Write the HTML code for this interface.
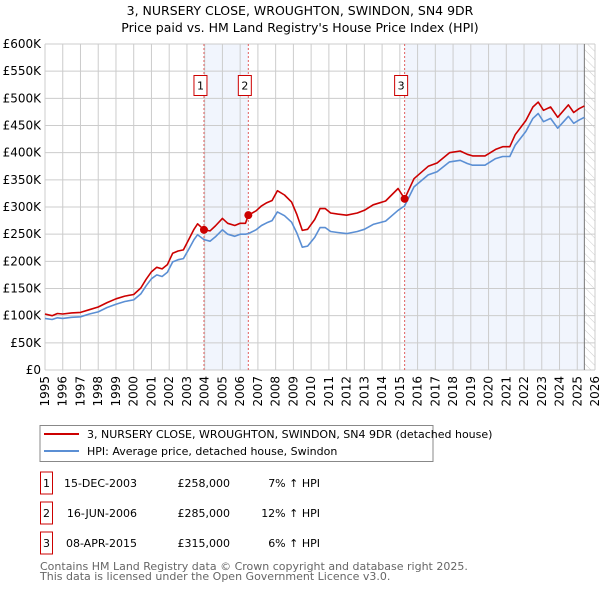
<!DOCTYPE html>
<html><head><meta charset="utf-8"><style>
body{margin:0;background:#fff;font-family:"DejaVu Sans","Liberation Sans",sans-serif;}
svg text{font-family:"DejaVu Sans","Liberation Sans",sans-serif;}
</style></head><body>
<svg id="chart" width="600" height="590" viewBox="0 0 600 590" xmlns="http://www.w3.org/2000/svg">
<defs><pattern id="hatch" width="6" height="6" patternUnits="userSpaceOnUse" patternTransform="rotate(-45)"><line x1="0" y1="0" x2="0" y2="6" stroke="#ccc" stroke-width="1"/></pattern></defs>
<text x="300" y="15" text-anchor="middle" font-size="12.5">3, NURSERY CLOSE, WROUGHTON, SWINDON, SN4 9DR</text>
<text x="300" y="32" text-anchor="middle" font-size="12.5">Price paid vs. HM Land Registry's House Price Index (HPI)</text>
<g id="plot"></g>
<g>
<rect x="40" y="425.5" width="393" height="36" fill="#fff" stroke="#888"/>
<line x1="44" y1="434" x2="79" y2="434" stroke="#cc0000" stroke-width="2"/>
<text x="87" y="438" font-size="11">3, NURSERY CLOSE, WROUGHTON, SWINDON, SN4 9DR (detached house)</text>
<line x1="44" y1="451" x2="79" y2="451" stroke="#5b8fd4" stroke-width="2"/>
<text x="87" y="455" font-size="11">HPI: Average price, detached house, Swindon</text>
</g>
<g id="table" font-size="11"></g>
<text x="40" y="570" font-size="11" fill="#666">Contains HM Land Registry data © Crown copyright and database right 2025.</text>
<text x="40" y="580" font-size="11" fill="#666">This data is licensed under the Open Government Licence v3.0.</text>
</svg>
<script>
const hpiYears=[1995.0,1995.4,1995.7,1996.0,1996.5,1997.0,1997.5,1998.0,1998.5,1999.0,1999.5,2000.0,2000.4,2000.7,2001.0,2001.3,2001.6,2001.9,2002.2,2002.5,2002.8,2003.1,2003.4,2003.6,2003.96,2004.3,2004.6,2005.0,2005.3,2005.7,2006.0,2006.3,2006.46,2006.9,2007.2,2007.5,2007.8,2008.1,2008.5,2008.9,2009.2,2009.5,2009.8,2010.2,2010.5,2010.8,2011.1,2011.5,2012.0,2012.6,2013.0,2013.5,2014.2,2014.9,2015.27,2015.8,2016.6,2017.1,2017.8,2018.4,2018.8,2019.1,2019.8,2020.4,2020.8,2021.2,2021.5,2022.1,2022.5,2022.8,2023.1,2023.5,2023.9,2024.5,2024.8,2025.1,2025.4];
const hpiValues=[95,93,96,95,97,98,103,107,115,121,126,129,140,155,168,175,172,180,199,203,205,222,240,249,240,237,245,258,250,246,250,250,251,258,266,271,275,291,284,272,252,226,228,244,262,262,255,253,251,255,259,268,274,294,302,337,359,365,383,386,380,377,377,389,393,393,414,439,463,472,457,463,445,467,454,460,465];
const priceValues=[103,100,104,103,105,106,111,116,124,131,136,139,151,167,181,189,186,194,215,219,221,240,259,269,258,256,265,279,270,266,270,270,285,293,302,308,312,330,322,309,286,257,259,277,297,297,289,287,285,289,294,304,311,334,315,352,375,381,400,403,397,394,394,406,411,411,433,459,484,493,478,484,465,488,474,481,486];
const saleLabels=["1","2","3"];
const saleYears=[2003.96,2006.46,2015.27];
const salePrices=[258,285,315];
const saleDates=["15-DEC-2003","16-JUN-2006","08-APR-2015"];
const salePriceText=["£258,000","£285,000","£315,000"];
const saleHpiText=["7% ↑ HPI","12% ↑ HPI","6% ↑ HPI"];
const yTickValues=[0,50,100,150,200,250,300,350,400,450,500,550,600];
const yTickLabels=["£0","£50K","£100K","£150K","£200K","£250K","£300K","£350K","£400K","£450K","£500K","£550K","£600K"];
const xTickYears=[1995,1996,1997,1998,1999,2000,2001,2002,2003,2004,2005,2006,2007,2008,2009,2010,2011,2012,2013,2014,2015,2016,2017,2018,2019,2020,2021,2022,2023,2024,2025,2026];
const dataEndYear=2025.4;

const X0=45,X1=595,Y0=370,Y1=44;
const xs=y=>X0+(y-1995)/(2026-1995)*(X1-X0);
const ys=v=>Y0-v/600*(Y0-Y1);
const NS="http://www.w3.org/2000/svg";
const plot=document.getElementById('plot');
function mk(tag,attrs,parent){const e=document.createElementNS(NS,tag);for(const k in attrs)e.setAttribute(k,attrs[k]);(parent||plot).appendChild(e);return e;}

let s=mk('rect',{x:xs(saleYears[0]),y:Y1,width:xs(saleYears[1])-xs(saleYears[0]),height:Y0-Y1,fill:'#eef3fc',opacity:0.8});


s=mk('rect',{x:xs(saleYears[2]),y:Y1,width:xs(dataEndYear)-xs(saleYears[2]),height:Y0-Y1,fill:'#eef3fc',opacity:0.8});


s=mk('rect',{x:xs(dataEndYear),y:Y1,width:X1-xs(dataEndYear),height:Y0-Y1,fill:'url(#hatch)'});



yTickValues.forEach((v,i)=>{
  const l=mk('line',{x1:X0,x2:X1,y1:ys(v),y2:ys(v),stroke:'#cccccc','stroke-width':1});
  
  
  const t=mk('text',{x:X0-4,y:ys(v)+4,'text-anchor':'end','font-size':12});
  
  
  t.textContent=yTickLabels[i];
});
xTickYears.forEach(y=>{
  const l=mk('line',{x1:xs(y),x2:xs(y),y1:Y1,y2:Y0,stroke:'#cccccc','stroke-width':1});
  
  
  const t=mk('text',{x:0,y:0,'text-anchor':'end','font-size':12,transform:`translate(${xs(y)+4},${Y0+6}) rotate(-90)`});
  
  
  t.textContent=y;
});
const el=mk('line',{x1:xs(dataEndYear),x2:xs(dataEndYear),y1:Y1,y2:Y0,stroke:'#777','stroke-width':1});



saleYears.forEach((y,i)=>{
  const l=mk('line',{x1:xs(y),x2:xs(y),y1:Y1,y2:Y0,stroke:'#e06060','stroke-width':1,'stroke-dasharray':'2,2'});
  
  
});

function path(vals,col,name){
  const d=hpiYears.map((y,i)=>(i?'L':'M')+xs(y).toFixed(1)+','+ys(vals[i]).toFixed(1)).join('');
  const p=mk('path',{d:d,fill:'none',stroke:col,'stroke-width':1.6,'stroke-linejoin':'round'});
  
  
}
path(hpiValues,'#5b8fd4','hpi-line');
path(priceValues,'#cc0000','price-line');

saleYears.forEach((y,i)=>{
  const c=mk('circle',{cx:xs(y),cy:ys(salePrices[i]),r:4,fill:'#cc0000'});
  
  
  const g=mk('g',{});
  
  
  mk('rect',{x:xs(y)-10,y:75.5,width:13,height:20,fill:'#fff',stroke:'#cc0000'},g);
  const t=mk('text',{x:xs(y)-3.5,y:89.5,'text-anchor':'middle','font-size':11},g);
  t.textContent=saleLabels[i];
});
const tbl=document.getElementById('table');
saleLabels.forEach((lab,i)=>{
  const cy=483+i*30;
  const g=mk('g',{},tbl);
  
  
  mk('rect',{x:40.5,y:cy-11,width:12,height:22,fill:'#fff',stroke:'#cc0000'},g);
  let t=mk('text',{x:46.5,y:cy+4,'text-anchor':'middle'},g);t.textContent=lab;
  t=mk('text',{x:137,y:cy+4,'text-anchor':'end'},g);t.textContent=saleDates[i];
  t=mk('text',{x:230,y:cy+4,'text-anchor':'end'},g);t.textContent=salePriceText[i];
  t=mk('text',{x:320,y:cy+4,'text-anchor':'end'},g);t.textContent=saleHpiText[i];
});
</script>
</body></html>
